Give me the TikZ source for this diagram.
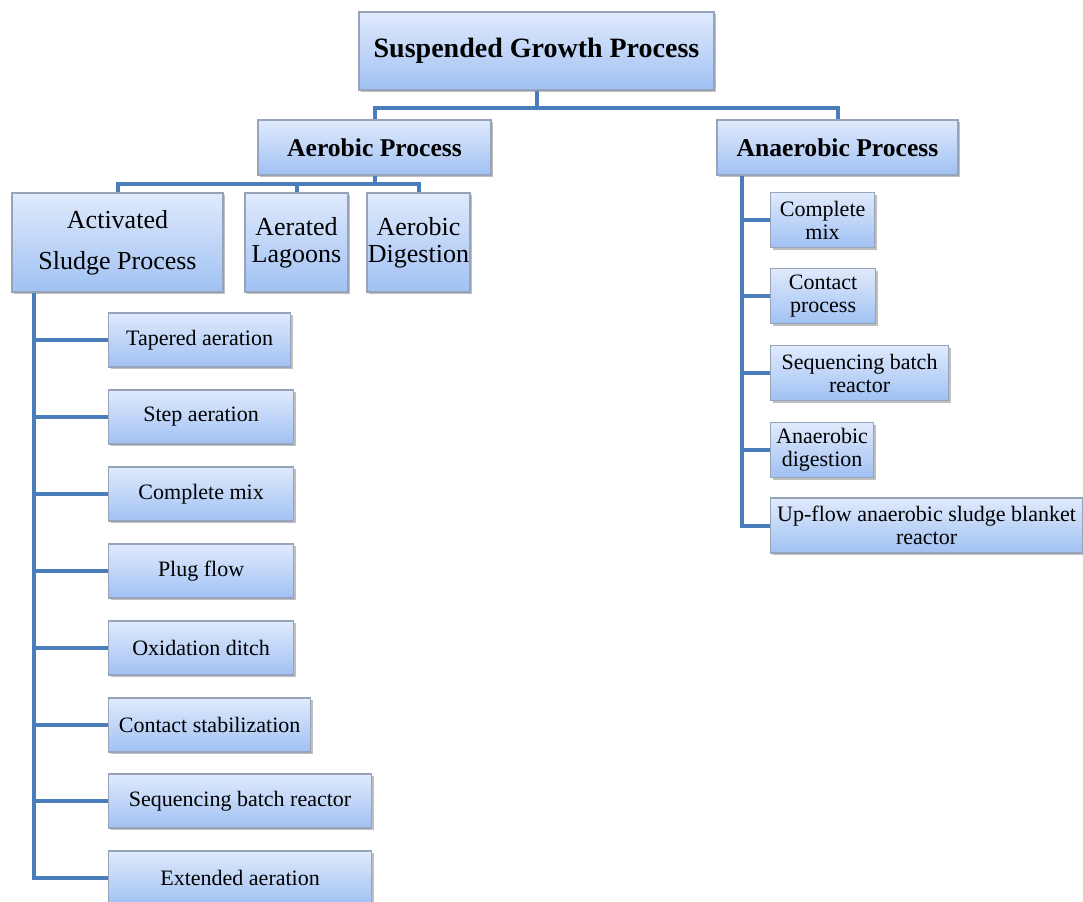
\documentclass[tikz,border=0pt]{standalone}
\usepackage{fontspec}
\setmainfont{Liberation Serif}
\usetikzlibrary{shadows,calc}
\definecolor{boxtop}{RGB}{224,234,252}
\definecolor{boxbot}{RGB}{160,193,243}
\definecolor{boxline}{RGB}{150,163,184}
\definecolor{linkblue}{RGB}{74,126,187}

\begin{document}
\begin{tikzpicture}[x=0.5pt,y=-0.5pt,
	box/.style={rectangle,draw=boxline,line width=0.6pt,top color=boxtop,bottom color=boxbot,drop shadow={shadow xshift=1pt,shadow yshift=-1pt,fill=black,opacity=0.25},inner sep=2pt,align=center,font=\fontsize{11}{11.5}\selectfont},
	head/.style={box,font=\fontsize{12.8}{14}\selectfont\bfseries},
	big/.style={box,inner xsep=0pt,font=\fontsize{13}{13.5}\selectfont},
	link/.style={draw=linkblue,line width=2pt}]
\useasboundingbox (0,0) rectangle (1083,901);

\node[head,minimum width=177.5pt,minimum height=39pt,font=\fontsize{14}{16}\selectfont\bfseries] at (536.5,51) (sgp) {Suspended Growth Process};
\node[head,minimum width=116.5pt,minimum height=27.5pt] at (374.5,147.5) (aer) {Aerobic Process};
\node[head,minimum width=120.5pt,minimum height=27.5pt] at (837.5,147.5) (ana) {Anaerobic Process};

\node[big,minimum width=105.5pt,minimum height=49.5pt,font=\fontsize{13}{20.5}\selectfont] at (117.5,242.5) (asp) {Activated\\Sludge Process};
\node[big,minimum width=51.5pt,minimum height=49.5pt] at (296.5,242.5) (agl) {Aerated\\Lagoons};
\node[big,minimum width=51.5pt,minimum height=49.5pt] at (418.5,242.5) (adg) {Aerobic\\Digestion};

\node[box,anchor=west,minimum width=91pt,minimum height=27pt] at (108,340) (tap) {Tapered aeration};
\node[box,anchor=west,minimum width=92.5pt,minimum height=27pt] at (108,417) (stp) {Step aeration};
\node[box,anchor=west,minimum width=92.5pt,minimum height=27pt] at (108,494) (cmx) {Complete mix};
\node[box,anchor=west,minimum width=92.5pt,minimum height=27pt] at (108,571) (plg) {Plug flow};
\node[box,anchor=west,minimum width=92.5pt,minimum height=27pt] at (108,648) (oxd) {Oxidation ditch};
\node[box,anchor=west,minimum width=101pt,minimum height=27pt] at (108,725) (cst) {Contact stabilization};
\node[box,anchor=west,minimum width=131.5pt,minimum height=27pt] at (108,801) (sbr) {Sequencing batch reactor};
\node[box,anchor=west,minimum width=131.5pt,minimum height=27pt] at (108,878) (ext) {Extended aeration};

\node[box,anchor=west,minimum width=52pt,minimum height=27.5pt] at (770,220) (acm) {Complete\\mix};
\node[box,anchor=west,minimum width=52.5pt,minimum height=27.5pt] at (770,296) (acp) {Contact\\process};
\node[box,anchor=west,minimum width=89pt,minimum height=27.5pt] at (770,373) (asb) {Sequencing batch\\reactor};
\node[box,anchor=west,inner xsep=1pt,minimum width=51.5pt,minimum height=27.5pt] at (770,450) (adi) {Anaerobic\\digestion};
\node[box,anchor=west,minimum width=156pt,minimum height=27.5pt] at (770,525.5) (uas) {Up-flow anaerobic sludge blanket\\reactor};

% top level
\draw[link] (sgp.south) -- ++(0,17) coordinate (j1);
\draw[link] (j1) -| (aer.north);
\draw[link] (j1) -| (ana.north);

% aerobic
\draw[link] (aer.south) -- ++(0,8) coordinate (j2);
\draw[link] (j2) -| (asp.north);
\draw[link] (j2) -| (agl.north);
\draw[link] (j2) -| (adg.north);

% activated sludge
\coordinate (t1) at ($(asp.south west)+(23,0)$);
\draw[link] (t1) |- (ext.west);
\draw[link] (tap.west) -- (tap.west -| t1);
\draw[link] (stp.west) -- (stp.west -| t1);
\draw[link] (cmx.west) -- (cmx.west -| t1);
\draw[link] (plg.west) -- (plg.west -| t1);
\draw[link] (oxd.west) -- (oxd.west -| t1);
\draw[link] (cst.west) -- (cst.west -| t1);
\draw[link] (sbr.west) -- (sbr.west -| t1);

% anaerobic
\coordinate (t2) at ($(ana.south west)+(26,0)$);
\draw[link] (t2) |- (uas.west);
\draw[link] (acm.west) -- (acm.west -| t2);
\draw[link] (acp.west) -- (acp.west -| t2);
\draw[link] (asb.west) -- (asb.west -| t2);
\draw[link] (adi.west) -- (adi.west -| t2);
\end{tikzpicture}
\end{document}
